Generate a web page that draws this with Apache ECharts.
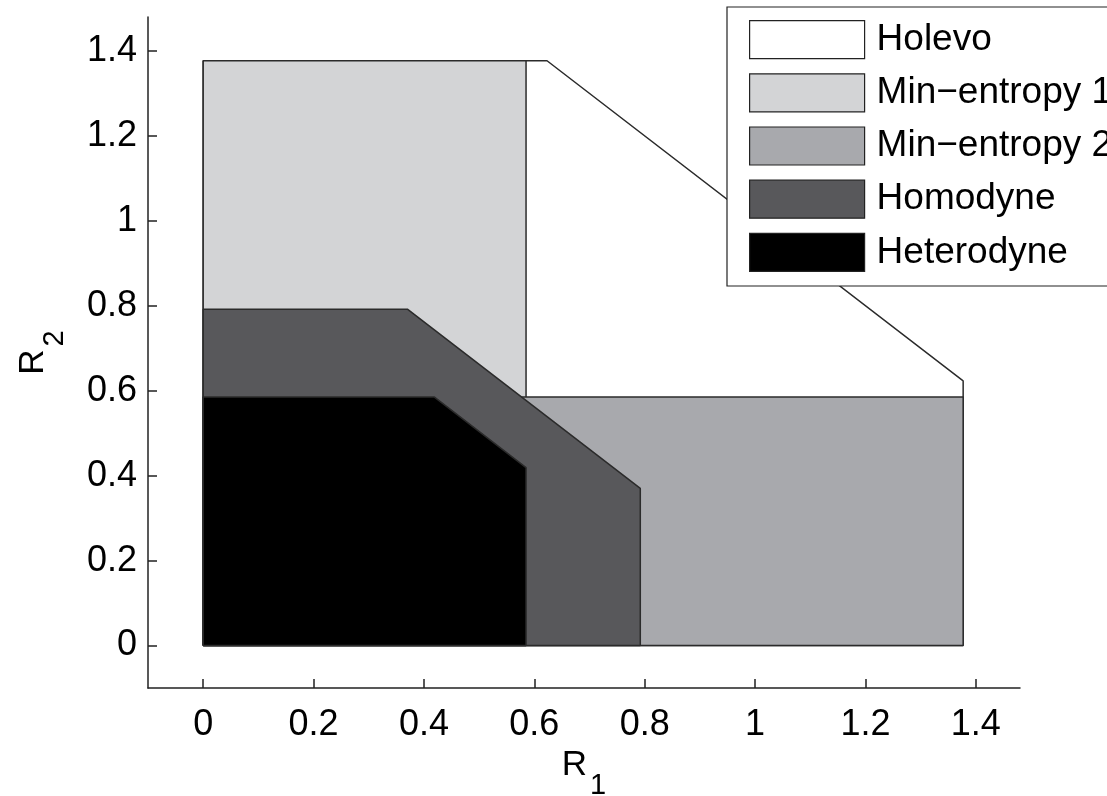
<!DOCTYPE html>
<html>
<head>
<meta charset="utf-8">
<script src="https://cdn.jsdelivr.net/npm/echarts@6/dist/echarts.min.js"></script>
<style>
  html, body { margin: 0; padding: 0; background: #fff; }
  #chart { width: 1107px; height: 796px; }
</style>
</head>
<body>
<div id="chart"></div>
<script>
// tick labels
const xTicks = [0, 0.2, 0.4, 0.6, 0.8, 1, 1.2, 1.4];
const yTicks = [0, 0.2, 0.4, 0.6, 0.8, 1, 1.2, 1.4];

// region names
const regionNames = ["Holevo", "Min\u2212entropy 1", "Min\u2212entropy 2", "Homodyne", "Heterodyne"];

// polygon vertices (R1, R2) per region
const holevoR1 = [0, 0, 0.623, 1.377, 1.377];
const holevoR2 = [0, 1.377, 1.377, 0.623, 0];
const minEnt1R1 = [0, 0, 0.585, 0.585];
const minEnt1R2 = [0, 1.377, 1.377, 0];
const minEnt2R1 = [0, 0, 1.377, 1.377];
const minEnt2R2 = [0, 0.585, 0.585, 0];
const homodyneR1 = [0, 0, 0.37, 0.792, 0.792];
const homodyneR2 = [0, 0.792, 0.792, 0.37, 0];
const heterodyneR1 = [0, 0, 0.419, 0.585, 0.585];
const heterodyneR2 = [0, 0.585, 0.585, 0.419, 0];

const fills = ["#ffffff", "#d3d4d6", "#a8a9ad", "#58585b", "#000000"];
const edge = "#2b2b2b";
const font = "'Liberation Sans', Arial, Helvetica, sans-serif";

const shapes = [
  [holevoR1, holevoR2],
  [minEnt1R1, minEnt1R2],
  [minEnt2R1, minEnt2R2],
  [homodyneR1, homodyneR2],
  [heterodyneR1, heterodyneR2],
];

const toPoints = (xs, ys) => {
  const pts = xs.map((x, i) => [x, ys[i]]);
  pts.push([xs[0], ys[0]]); // close the outline
  return pts;
};

const myChart = echarts.init(document.getElementById("chart"), null, { renderer: "canvas" });

const axisCommon = {
  type: "value",
  min: -0.1,
  max: 1.48,
  splitLine: { show: false },
  axisLine: { show: true, onZero: false, lineStyle: { color: "#222", width: 1.5 } },
  axisTick: { show: true, inside: true, length: 9, lineStyle: { color: "#222", width: 1.5 } },
  axisLabel: { color: "#000", fontSize: 36, fontFamily: font, showMinLabel: true, showMaxLabel: true },
  nameLocation: "middle",
};

const nameRich = {
  r: { fontSize: 35, lineHeight: 40, fontFamily: font, color: "#000", verticalAlign: "top" },
  s: { fontSize: 29, lineHeight: 34, fontFamily: font, color: "#000", verticalAlign: "top", padding: [24, 0, 0, 3] },
};

const option = {
  animation: false,
  backgroundColor: "#fff",
  grid: { left: 148, right: 87, top: 17, bottom: 108, outerBoundsMode: "none" },
  xAxis: {
    ...axisCommon,
    name: "{r|R}{s|1}",
    nameGap: 59,
    nameTextStyle: { rich: nameRich },
    axisTick: { ...axisCommon.axisTick, customValues: xTicks },
    axisLabel: { ...axisCommon.axisLabel, margin: 19, customValues: xTicks },
  },
  yAxis: {
    ...axisCommon,
    name: "{r|R}{s|2}",
    nameGap: 92,
    nameRotate: 90,
    nameTextStyle: { rich: nameRich },
    axisTick: { ...axisCommon.axisTick, customValues: yTicks },
    axisLabel: { ...axisCommon.axisLabel, margin: 11, customValues: yTicks },
  },
  legend: {
    orient: "vertical",
    left: 727,
    top: 7,
    padding: [13, 120, 14, 22],
    itemWidth: 115,
    itemHeight: 38,
    itemGap: 14,
    icon: "rect",
    backgroundColor: "#fff",
    borderColor: "#222",
    borderWidth: 1.2,
    borderRadius: 0,
    selectedMode: false,
    itemStyle: { borderColor: "#222", borderWidth: 1.2 },
    textStyle: { fontSize: 37, fontFamily: font, color: "#000", padding: [0, 0, 0, 7] },
    data: regionNames,
  },
  series: shapes.map(([xs, ys], i) => ({
    name: regionNames[i],
    type: "line",
    z: 2 + i,
    data: toPoints(xs, ys),
    symbol: "none",
    silent: true,
    lineStyle: { color: edge, width: 1.5 },
    itemStyle: { color: fills[i] },
    areaStyle: { color: fills[i], opacity: 1, origin: 0 },
    emphasis: { disabled: true },
  })),
};

myChart.setOption(option);
</script>
</body>
</html>
